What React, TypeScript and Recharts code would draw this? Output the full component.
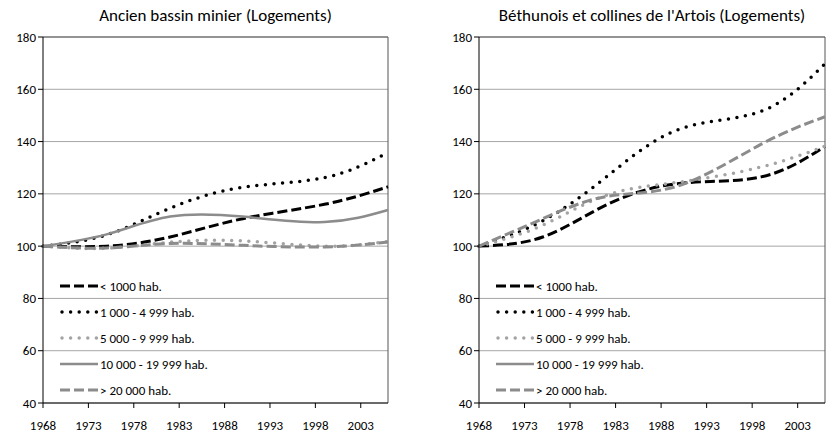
import {CartesianGrid, Line, LineChart, ReferenceLine, XAxis, YAxis} from 'recharts'
import {JSX} from 'react'

const years = [1968, 1975, 1982, 1990, 1999, 2006]
const xTicks = [1968, 1973, 1978, 1983, 1988, 1993, 1998, 2003]
const yTicks = [40, 60, 80, 100, 120, 140, 160, 180]
const seriesNames = ['< 1000 hab.', '1 000 - 4 999 hab.', '5 000 - 9 999 hab.', '10 000 - 19 999 hab.', '> 20 000 hab.']

// Ancien bassin minier
const bassinS1 = [100, 100, 103.5, 110.5, 116, 122.7]
const bassinS2 = [100, 104.3, 114.5, 122.5, 126.2, 135.8]
const bassinS3 = [100, 99.2, 101.5, 102, 100, 101.8]
const bassinS4 = [100, 104.5, 111.3, 111.3, 109.2, 113.8]
const bassinS5 = [100, 99.3, 101, 100.3, 99.7, 101.6]

// Béthunois et collines de l'Artois (pas de communes 10 000 - 19 999)
const bethS1 = [100, 103.5, 115.8, 124, 126.5, 138.2]
const bethS2 = [100, 109.7, 126.5, 144.7, 151.6, 169.8]
const bethS3 = [100, 108, 119.5, 124.5, 130.3, 138.2]
const bethS4 = [null, null, null, null, null, null]
const bethS5 = [100, 110.5, 119, 123.2, 139, 149.5]

const FONT = 'Carlito, Calibri, Lato, sans-serif'

type Style = {color: string; width: number; dash?: string; cap?: 'round' | 'butt'}
const styles: Style[] = [
	{color: '#000000', width: 3, dash: '10 4'},
	{color: '#000000', width: 3.5, dash: '0 8.6', cap: 'round'},
	{color: '#a3a3a3', width: 3.5, dash: '0 8.6', cap: 'round'},
	{color: '#8c8c8c', width: 2.5},
	{color: '#8c8c8c', width: 3, dash: '10 4'},
]

const buildRows = (series: (number | null)[][]) =>
	years.map((year, i) => {
		const row: Record<string, number | null> = {year}
		series.forEach((s, k) => (row['s' + k] = s[i]))
		return row
	})

const bassinData = buildRows([bassinS1, bassinS2, bassinS3, bassinS4, bassinS5])
const bethData = buildRows([bethS1, bethS2, bethS3, bethS4, bethS5])

const LegendBox = ({left, top}: {left: number; top: number}): JSX.Element => (
	<div style={{position: 'absolute', left, top, fontFamily: FONT, fontSize: 13}}>
		{seriesNames.map((name, k) => (
			<div key={name} style={{display: 'flex', alignItems: 'center', height: 26}}>
				<svg width={40} height={10}>
					<line
						x1={styles[k].cap ? 2 : 0}
						x2={38}
						y1={5}
						y2={5}
						stroke={styles[k].color}
						strokeWidth={styles[k].width}
						strokeDasharray={styles[k].dash}
						strokeLinecap={styles[k].cap ?? 'butt'}
					/>
				</svg>
				<span>{name}</span>
			</div>
		))}
	</div>
)

type PanelProps = {title: string; data: Record<string, number | null>[]; width: number; yWidth: number; right: number}

const Panel = ({title, data, width, yWidth, right}: PanelProps): JSX.Element => (
	<div style={{position: 'relative', width, height: 433}}>
		<div
			style={{
				position: 'absolute',
				top: 5,
				left: yWidth,
				width: width - yWidth - right,
				textAlign: 'center',
				fontFamily: FONT,
				fontSize: 17,
				whiteSpace: 'nowrap',
				color: '#000',
			}}
		>
			{title}
		</div>
		<LineChart width={width} height={433} data={data} margin={{top: 37, right, bottom: 0, left: 0}}>
			<CartesianGrid vertical={false} stroke='#a6a6a6' />
			<XAxis
				dataKey='year'
				type='number'
				domain={[1968, 2006]}
				ticks={xTicks}
				interval={0}
				height={30}
				tickSize={5}
				stroke='#000'
				tick={{fill: '#000', fontFamily: FONT, fontSize: 13, dy: 11}}
			/>
			<YAxis
				domain={[40, 180]}
				ticks={yTicks}
				interval={0}
				width={yWidth}
				tickSize={5}
				stroke='#000'
				tick={{fill: '#000', fontFamily: FONT, fontSize: 13}}
			/>
			<ReferenceLine y={180} stroke='#555' />
			<ReferenceLine x={2006} stroke='#555' />
			{styles.map((st, k) => (
				<Line
					key={k}
					dataKey={'s' + k}
					type='natural'
					stroke={st.color}
					strokeWidth={st.width}
					strokeDasharray={st.dash}
					strokeLinecap={st.cap ?? 'butt'}
					dot={false}
					activeDot={false}
					connectNulls={false}
					isAnimationActive={false}
				/>
			))}
		</LineChart>
		<LegendBox left={yWidth + 17} top={273} />
	</div>
)

const App = (): JSX.Element => (
	<div style={{position: 'absolute', left: 0, top: 0, width: 833, height: 433, background: '#fff', display: 'flex'}}>
		<Panel title='Ancien bassin minier (Logements)' data={bassinData} width={420} yWidth={43} right={32} />
		<Panel title="Béthunois et collines de l'Artois (Logements)" data={bethData} width={413} yWidth={59} right={8} />
	</div>
)

export default App
